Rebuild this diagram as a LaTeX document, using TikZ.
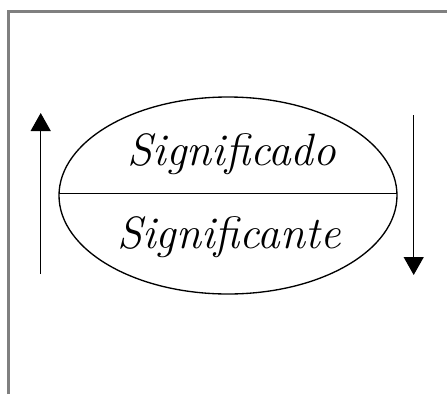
\documentclass[tikz,border=0pt]{standalone}
\usetikzlibrary{arrows.meta}
\tikzset{sigtext/.style={font=\fontsize{34}{38}\selectfont\itshape, inner sep=0pt, anchor=base},
    sigarrow/.style={line width=0.9pt, -{Triangle[width=15pt, length=13.5pt]}}}
\begin{document}
\begin{tikzpicture}[x=0.75pt,y=0.75pt,yscale=-1,xscale=1]
\useasboundingbox (0,0) rectangle (447,394);

%Frame
\draw [color={rgb, 255:red, 128; green, 128; blue, 128 }, line width=2pt]  (8.5,394) -- (8.5,11.5) -- (447,11.5) ;
%Shape: Ellipse [id:ell1] 
\draw  [line width=1pt]  (59,195.5) .. controls (59,141.1) and (134.7,97) .. (228,97) .. controls (321.3,97) and (397,141.1) .. (397,195.5) .. controls (397,249.9) and (321.3,294) .. (228,294) .. controls (134.7,294) and (59,249.9) .. (59,195.5) -- cycle ;
%Straight Lines [id:ln1] 
\draw  [line width=1pt]  (59,193.5) -- (397,193.5) ;

% Text Node
\node (sdo) [sigtext] at (232,165) {Significado};
% Text Node
\node (ste) [sigtext] at (229,248) {Significante};

%Straight Lines [id:arr1] 
\coordinate (upA) at (40.7,274);
\coordinate (upB) at (40.7,113);
\draw [sigarrow]  (upA) -- (upB) ;
%Straight Lines [id:arr2] 
\coordinate (dnA) at (413.7,115);
\coordinate (dnB) at (413.7,275);
\draw [sigarrow]  (dnA) -- (dnB) ;

\end{tikzpicture}
\end{document}
